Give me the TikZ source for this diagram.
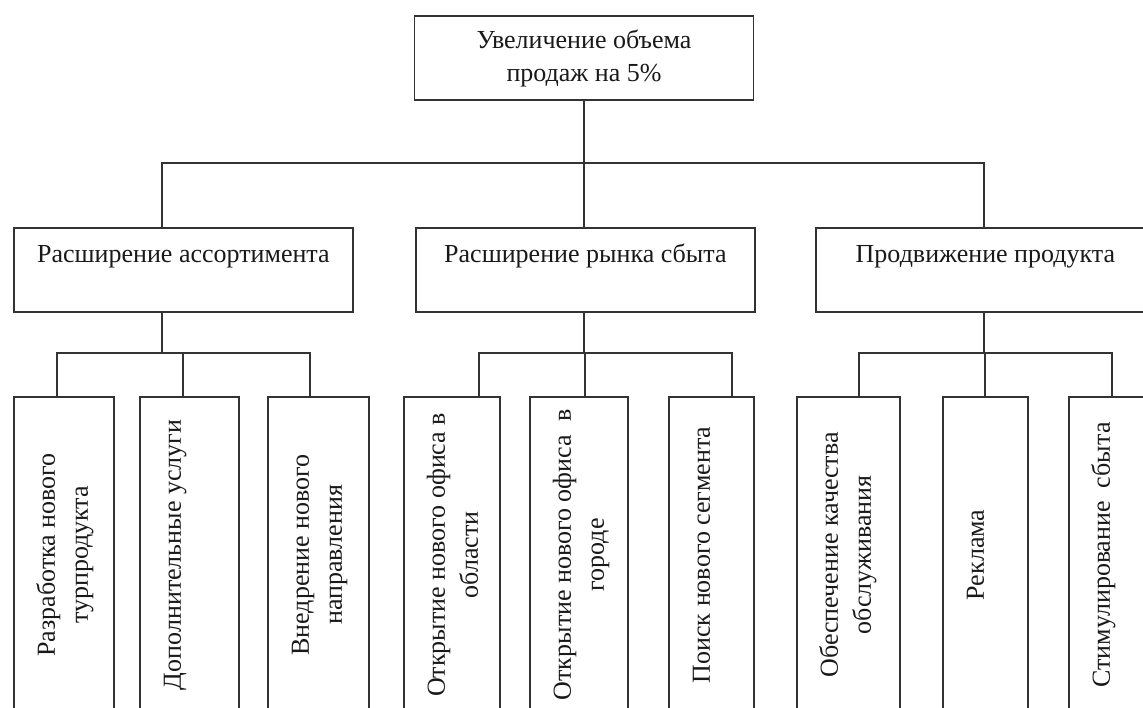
\documentclass[tikz,border=0pt]{standalone}
\usepackage{fontspec}
\setmainfont{Liberation Serif}
\tikzset{
  every node/.style={font=\fontsize{26}{33}\selectfont, text=black!90},
  box/.style={draw=black!80, line width=1.8pt},
  goal/.style={box, align=center, minimum width=339pt, minimum height=84pt, inner sep=0pt},
  mid/.style={box, inner sep=0pt, minimum width=339pt, text height=35pt, text depth=49pt},
  leaf/.style={box, rotate=90, inner sep=0pt, text width=310pt, align=flush center,
    minimum width=316pt, text height=41pt, text depth=#1},
  leaf/.default=59pt,
  link/.style={draw=black!80, line width=1.8pt}
  }
\begin{document}
\begin{tikzpicture}[x=1pt, y=-1pt]

    \clip (0,0) rectangle (1143,708);

    \node [goal] at (584,58) (top) {Увеличение объема\\продаж на 5\%};
    \node [mid, anchor=north west] at (13,227)  (mL) {Расширение ассортимента};
    \node [mid, anchor=north west] at (415,227) (mM) {Расширение рынка сбыта};
    \node [mid, anchor=north west] at (815,227) (mR) {Продвижение продукта};

    \node [leaf=59pt, anchor=north east] at (13,396)   (lA) {Разработка нового\\турпродукта};
    \node [leaf=58pt, anchor=north east] at (139,396)  (lB) {Дополнительные услуги};
    \node [leaf=60pt, anchor=north east] at (267,396)  (lC) {Внедрение нового\\направления};
    \node [leaf=55pt, anchor=north east] at (403,396)  (lD) {Открытие нового офиса в\\области};
    \node [leaf=57pt, anchor=north east] at (529,396)  (lE) {Открытие нового офиса~ в\\городе};
    \node [leaf=44pt, anchor=north east] at (668,396)  (lF) {Поиск нового сегмента};
    \node [leaf=62pt, anchor=north east] at (796,396)  (lG) {Обеспечение качества\\обслуживания};
    \node [leaf=44pt, anchor=north east] at (942,396)  (lH) {Реклама};
    \node [leaf=59pt, anchor=north east] at (1068,396) (lI) {Стимулирование~ сбыта};

    \coordinate (bus) at (584,163);
    \coordinate (jL) at (162,353);
    \coordinate (jM) at (584,353);
    \coordinate (jR) at (984,353);

    % top level
    \draw [link] (top.south -| bus) -- (bus);
    \draw [link] (bus) -| (mL.north -| jL);
    \draw [link] (bus) -- (mM.north -| bus);
    \draw [link] (bus) -| (mR.north -| jR);

    % stems under the middle boxes
    \draw [link] (mL.south -| jL) -- (jL);
    \draw [link] (mM.south -| jM) -- (jM);
    \draw [link] (mR.south -| jR) -- (jR);

    % leaves
    \draw [link] (jL) -| ([xshift=-7pt]lA.east);
    \draw [link] (jL) -| ([xshift=-6.5pt]lB.east);
    \draw [link] (jL) -| ([xshift=-8.5pt]lC.east);
    \draw [link] (jM) -| ([xshift=27pt]lD.east);
    \draw [link] (jM) -| ([xshift=6pt]lE.east);
    \draw [link] (jM) -| ([xshift=20.5pt]lF.east);
    \draw [link] (jR) -| ([xshift=10.5pt]lG.east);
    \draw [link] (jR) -| ([xshift=-0.5pt]lH.east);
    \draw [link] (jR) -| ([xshift=-7pt]lI.east);

\end{tikzpicture}
\end{document}
